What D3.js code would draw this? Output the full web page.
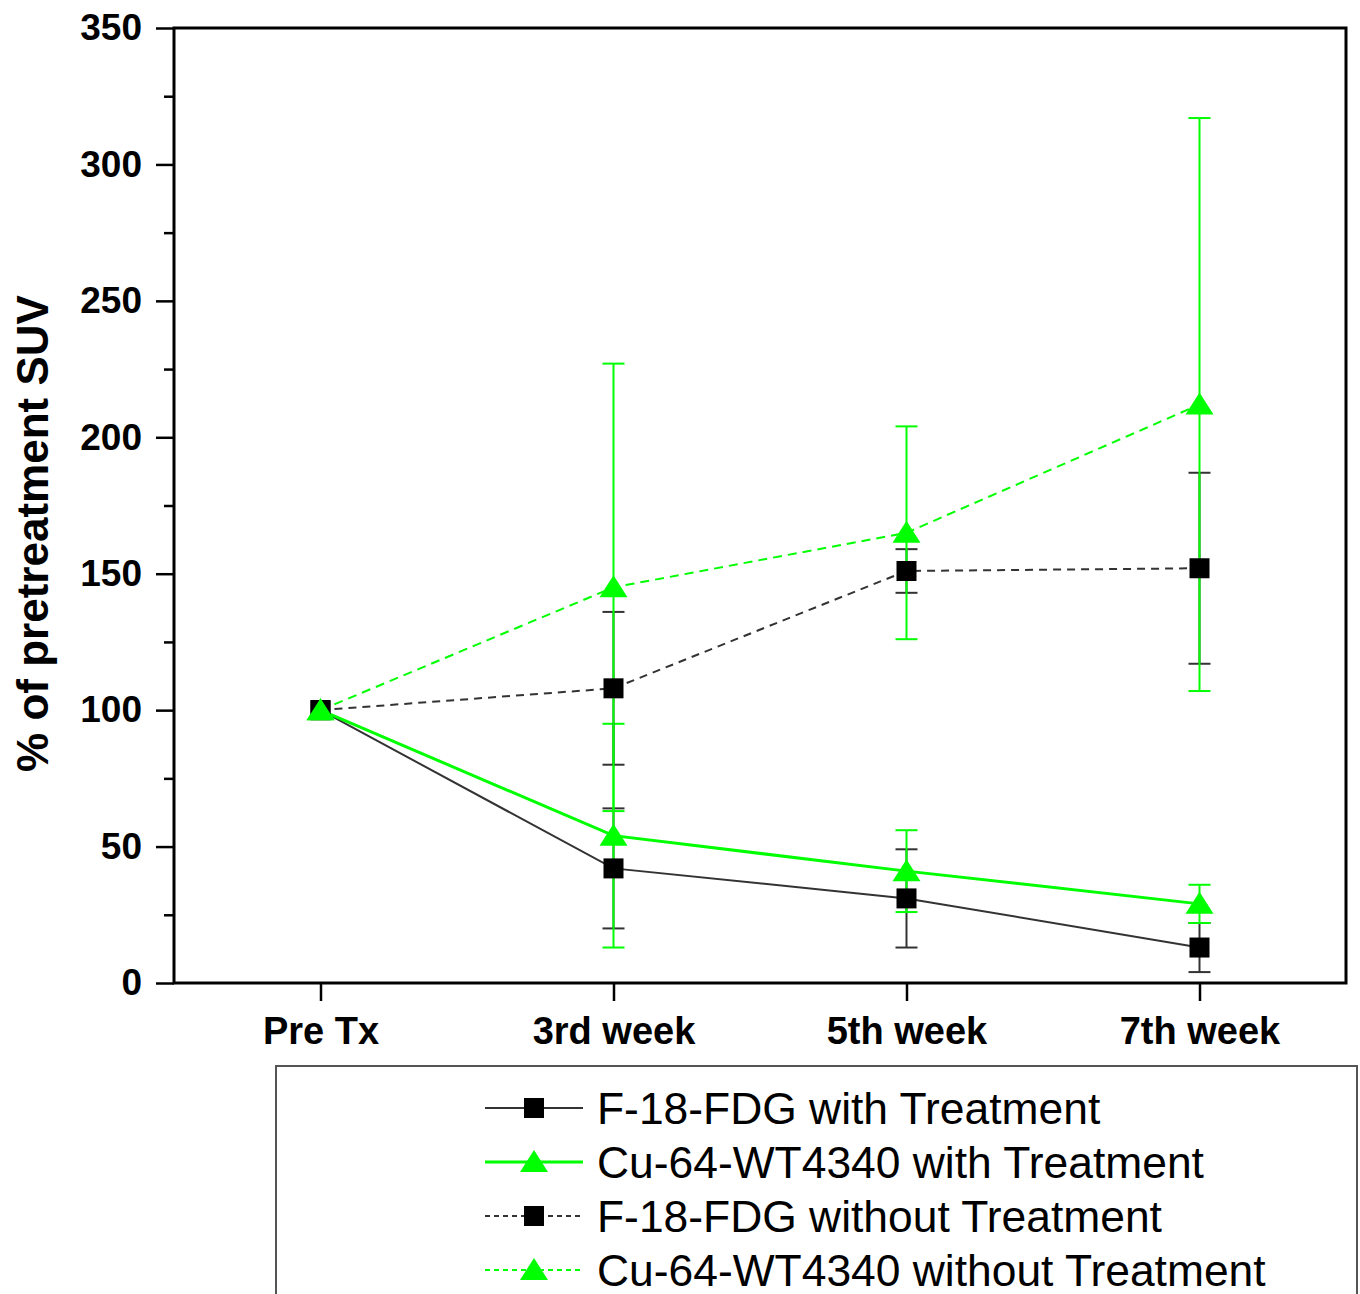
<!DOCTYPE html>
<html>
<head>
<meta charset="utf-8">
<script src="https://cdn.jsdelivr.net/npm/d3@7"></script>
<style>
  body { margin: 0; background: #fff; }
  svg { display: block; font-family: "Liberation Sans", Arial, sans-serif; }
</style>
</head>
<body>
<div id="chart"></div>
<script>
const categories = ["Pre Tx", "3rd week", "5th week", "7th week"];
const yTicks = [0, 50, 100, 150, 200, 250, 300, 350];
const yMinorTicks = [25, 75, 125, 175, 225, 275, 325];

const fdgWith = [100, 42, 31, 13];
const fdgWithErr = [0, 22, 18, 9];
const cuWith = [100, 54, 41, 29];
const cuWithErr = [0, 41, 15, 7];
const fdgWithout = [100, 108, 151, 152];
const fdgWithoutErr = [0, 28, 8, 35];
const cuWithout = [100, 145, 165, 212];
const cuWithoutErr = [0, 82, 39, 105];

const series = [
  { name: "F-18-FDG with Treatment", values: fdgWith, err: fdgWithErr, color: "#333", marker: "square", width: 2, dash: null },
  { name: "Cu-64-WT4340 with Treatment", values: cuWith, err: cuWithErr, color: "#00ff00", marker: "triangle", width: 3, dash: null },
  { name: "F-18-FDG without Treatment", values: fdgWithout, err: fdgWithoutErr, color: "#333", marker: "square", width: 2, dash: "8,6" },
  { name: "Cu-64-WT4340 without Treatment", values: cuWithout, err: cuWithoutErr, color: "#00ff00", marker: "triangle", width: 2, dash: "9,6" }
];

const W = 1360, H = 1294;
const plot = { left: 174, right: 1346, top: 28, bottom: 983 };

const svg = d3.select("#chart").append("svg")
  .attr("width", W).attr("height", H);

const x = d3.scalePoint().domain(categories).range([plot.left, plot.right]).padding(0.5);
const y = d3.scaleLinear().domain([0, 350]).range([plot.bottom, plot.top]);

// marcadores
function markerPath(m, cx, cy) {
  if (m === "square") {
    return `M${cx - 10},${cy - 10}h20v20h-20Z`;
  }
  return `M${cx},${cy - 12}L${cx + 14},${cy + 10}L${cx - 14},${cy + 10}Z`;
}

// Ejes
const yAxis = svg.append("g")
  .attr("transform", `translate(${plot.left},0)`)
  .call(d3.axisLeft(y).tickValues(yTicks).tickSize(18).tickPadding(14));
yAxis.select(".domain").remove();
yAxis.selectAll("line").attr("stroke", "#000").attr("stroke-width", 2.5);
yAxis.selectAll("text")
  .attr("fill", "#000")
  .style("font-size", "37px")
  .style("font-weight", "bold")
  .style("font-family", "'Liberation Sans', Arial, sans-serif");

const yMinor = svg.append("g")
  .attr("transform", `translate(${plot.left},0)`)
  .call(d3.axisLeft(y).tickValues(yMinorTicks).tickSize(10).tickFormat(""));
yMinor.select(".domain").remove();
yMinor.selectAll("line").attr("stroke", "#000").attr("stroke-width", 2.5);

const xAxis = svg.append("g")
  .attr("transform", `translate(0,${plot.bottom})`)
  .call(d3.axisBottom(x).tickSize(18).tickPadding(16));
xAxis.select(".domain").remove();
xAxis.selectAll("line").attr("stroke", "#000").attr("stroke-width", 2.5);
xAxis.selectAll("text")
  .attr("fill", "#000")
  .style("font-size", "38px")
  .style("font-weight", "bold")
  .style("font-family", "'Liberation Sans', Arial, sans-serif");

svg.append("rect")
  .attr("x", plot.left).attr("y", plot.top)
  .attr("width", plot.right - plot.left).attr("height", plot.bottom - plot.top)
  .attr("fill", "none").attr("stroke", "#000").attr("stroke-width", 3);

svg.append("text")
  .attr("transform", `translate(48,${(plot.top + plot.bottom) / 2 + 28}) rotate(-90)`)
  .attr("text-anchor", "middle")
  .style("font-size", "44px")
  .style("font-weight", "bold")
  .text("% of pretreatment SUV");

// Barras de error
series.forEach(s => {
  const g = svg.append("g");
  s.values.forEach((v, i) => {
    if (!s.err[i]) return;
    const cx = x(categories[i]);
    const hi = y(v + s.err[i]), lo = y(v - s.err[i]);
    g.append("line").attr("x1", cx).attr("x2", cx).attr("y1", hi).attr("y2", lo)
      .attr("stroke", s.color).attr("stroke-width", 2);
    [hi, lo].forEach(yy => {
      g.append("line").attr("x1", cx - 11).attr("x2", cx + 11).attr("y1", yy).attr("y2", yy)
        .attr("stroke", s.color).attr("stroke-width", 2);
    });
  });
});

// Lineas
const line = d3.line().x((d, i) => x(categories[i])).y(d => y(d));
series.forEach(s => {
  svg.append("path")
    .attr("d", line(s.values))
    .attr("fill", "none")
    .attr("stroke", s.color)
    .attr("stroke-width", s.width)
    .attr("stroke-dasharray", s.dash);
});

// Simbolos
series.forEach(s => {
  s.values.forEach((v, i) => {
    svg.append("path")
      .attr("d", markerPath(s.marker, x(categories[i]), y(v)))
      .attr("fill", s.marker === "square" ? "#000" : "#00ff00");
  });
});

// Leyenda
svg.append("rect")
  .attr("x", 276).attr("y", 1066)
  .attr("width", 1081).attr("height", 260)
  .attr("fill", "none").attr("stroke", "#555").attr("stroke-width", 2);

series.forEach((s, i) => {
  const cy = 1108 + i * 54;
  svg.append("line")
    .attr("x1", 485).attr("x2", 583).attr("y1", cy).attr("y2", cy)
    .attr("stroke", s.color).attr("stroke-width", s.width)
    .attr("stroke-dasharray", s.dash ? "5,4" : null);
  svg.append("path")
    .attr("d", markerPath(s.marker, 534, cy))
    .attr("fill", s.marker === "square" ? "#000" : "#00ff00");
  svg.append("text")
    .attr("x", 597).attr("y", cy + 16)
    .style("font-size", "44.4px")
    .text(s.name);
});
</script>
</body>
</html>
